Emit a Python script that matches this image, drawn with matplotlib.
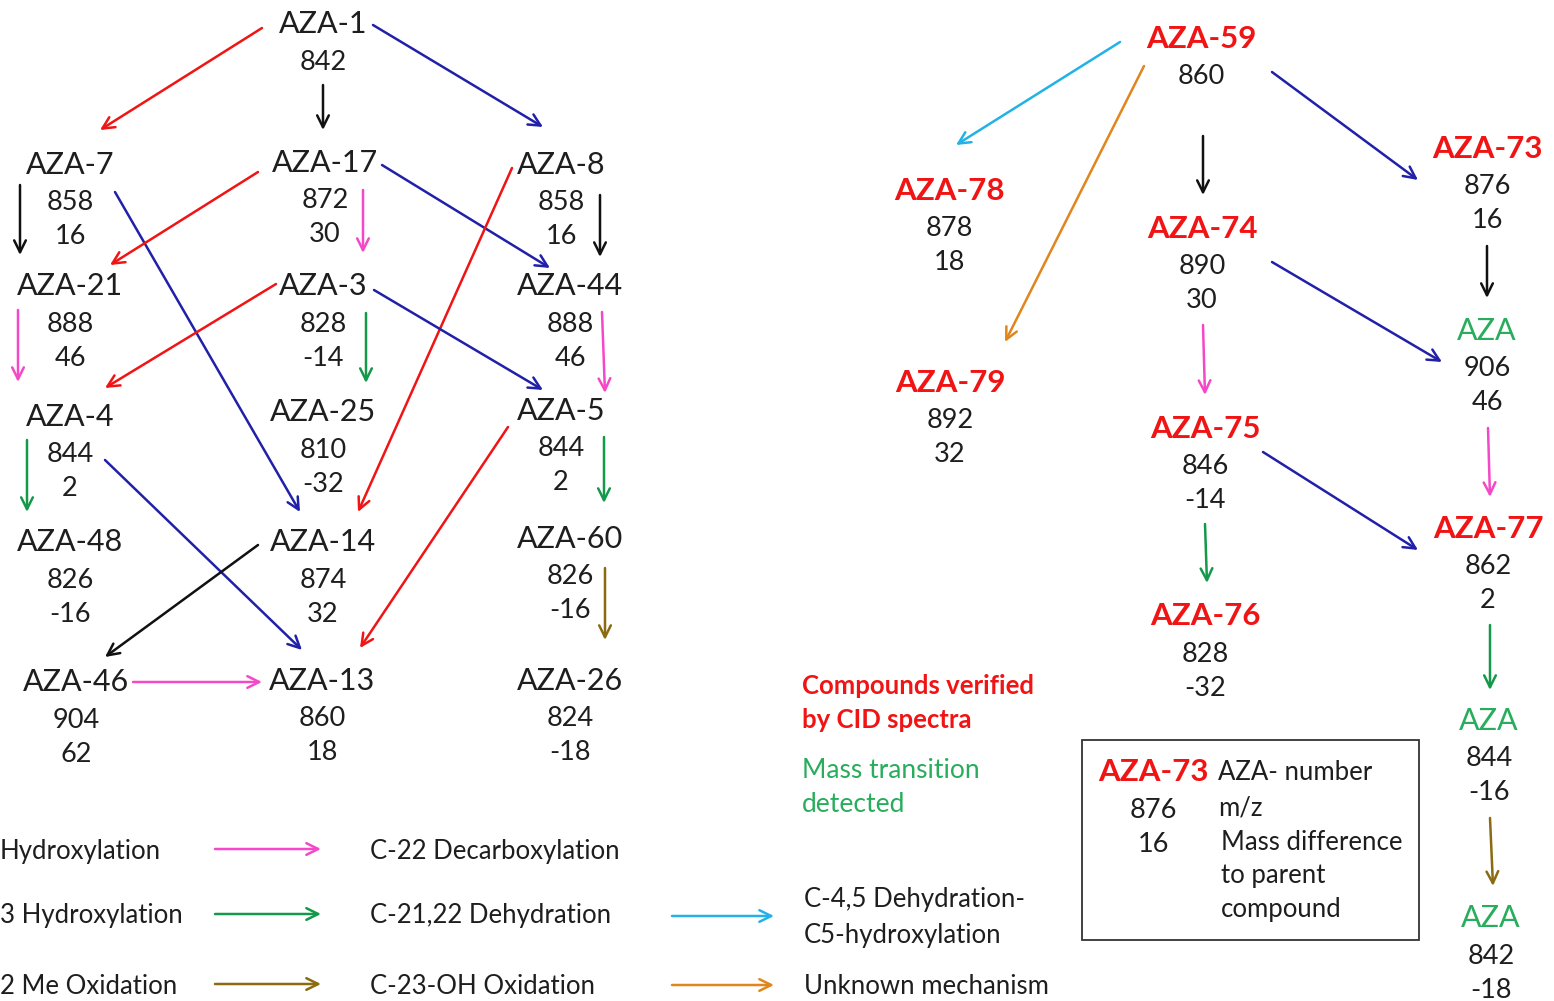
import matplotlib
matplotlib.use("Agg")
import matplotlib.pyplot as plt

plt.rcParams['font.family'] = ['Lato', 'DejaVu Sans']

# colours
RED = '#f01414'
BLUE = '#2020a8'
PINK = '#f548c8'
GREEN = '#14994a'
GREEN_TXT = '#28ad5c'
OLIVE = '#8c6a12'
CYAN = '#22b2e6'
ORANGE = '#e0861c'
BLACK = '#111111'
TXT = '#1e1e1e'

# compounds: name, m/z, mass difference to parent
names = ['AZA-1', 'AZA-7', 'AZA-17', 'AZA-8', 'AZA-21', 'AZA-3', 'AZA-44',
         'AZA-4', 'AZA-25', 'AZA-5', 'AZA-48', 'AZA-14', 'AZA-60',
         'AZA-46', 'AZA-13', 'AZA-26',
         'AZA-59', 'AZA-78', 'AZA-74', 'AZA-73', 'AZA-79', 'AZA', 'AZA-75',
         'AZA-77', 'AZA-76', 'AZA', 'AZA']
mz = ['842', '858', '872', '858', '888', '828', '888',
      '844', '810', '844', '826', '874', '826',
      '904', '860', '824',
      '860', '878', '890', '876', '892', '906', '846',
      '862', '828', '844', '842']
diff = ['', '16', '30', '16', '46', '-14', '46',
        '2', '-32', '2', '-16', '32', '-16',
        '62', '18', '-18',
        '', '18', '30', '16', '32', '46', '-14',
        '2', '-32', '-16', '-18']
# 'k' plain, 'v' verified by CID spectra, 't' mass transition detected
status = ['k'] * 16 + ['v', 'v', 'v', 'v', 'v', 't', 'v', 'v', 'v', 't', 't']

# layout: centre of the name label (pixels)
pos = [(323, 22), (70, 163), (325, 161), (561, 163), (70, 284), (323, 284),
       (570, 284), (70, 415), (323, 410), (561, 409), (70, 540), (323, 540),
       (570, 537), (76, 680), (322, 679), (570, 679),
       (1201, 37), (949, 189), (1202, 227), (1487, 147), (950, 381),
       (1487, 329), (1205, 427), (1488, 527), (1205, 614), (1489, 719),
       (1491, 916)]

# reaction arrows: start, end, colour
arrows = [
    ((262, 28), (100, 130), RED), ((323, 85), (323, 130), BLACK),
    ((373, 25), (543, 127), BLUE), ((20, 185), (20, 255), BLACK),
    ((115, 192), (300, 512), BLUE), ((258, 172), (110, 265), RED),
    ((363, 190), (363, 253), PINK), ((382, 165), (550, 268), BLUE),
    ((512, 168), (358, 512), RED), ((600, 195), (600, 257), BLACK),
    ((18, 310), (18, 382), PINK), ((276, 284), (105, 388), RED),
    ((366, 313), (366, 383), GREEN), ((374, 290), (543, 390), BLUE),
    ((602, 312), (605, 393), PINK), ((27, 440), (27, 512), GREEN),
    ((105, 460), (302, 650), BLUE), ((508, 427), (360, 648), RED),
    ((604, 437), (604, 503), GREEN), ((258, 545), (105, 657), BLACK),
    ((605, 568), (605, 640), OLIVE), ((133, 682), (262, 682), PINK),
    ((1120, 42), (956, 145), CYAN), ((1144, 66), (1005, 342), ORANGE),
    ((1203, 136), (1203, 195), BLACK), ((1272, 72), (1418, 180), BLUE),
    ((1487, 246), (1487, 298), BLACK), ((1272, 262), (1442, 362), BLUE),
    ((1203, 325), (1205, 395), PINK), ((1488, 428), (1490, 497), PINK),
    ((1263, 452), (1418, 550), BLUE), ((1205, 524), (1207, 583), GREEN),
    ((1490, 625), (1490, 690), GREEN), ((1490, 818), (1493, 886), OLIVE),
]

# legend
leg_left = ['Hydroxylation', '3 Hydroxylation', '2 Me Oxidation']
leg_left_col = [PINK, GREEN, OLIVE]
leg_mid = ['C-22 Decarboxylation', 'C-21,22 Dehydration', 'C-23-OH Oxidation']
leg_right = [['C-4,5 Dehydration-', 'C5-hydroxylation'], ['Unknown mechanism']]
leg_right_col = [CYAN, ORANGE]

ARROW = '->,head_length=0.85,head_width=0.42'
DY = 2  # Lato sits slightly high with va='center'


def arrow(ax, p0, p1, c):
    ax.annotate('', xy=p1, xytext=p0,
                arrowprops=dict(arrowstyle=ARROW, color=c, lw=1.8,
                                shrinkA=0, shrinkB=0))


def txt(ax, x, y, s, **kw):
    kw.setdefault('color', TXT)
    kw.setdefault('va', 'center')
    ax.text(x, y + DY, s, **kw)


fig = plt.figure(figsize=(15.54, 10.01), dpi=100)
ax = fig.add_axes([0, 0, 1, 1])
ax.set_xlim(0, 1554)
ax.set_ylim(1001, 0)
ax.axis('off')

for n, m, d, s, (x, y) in zip(names, mz, diff, status, pos):
    if s == 'v':
        txt(ax, x, y, n, color=RED, fontsize=22.5, fontweight='bold', ha='center')
    elif s == 't':
        txt(ax, x, y, n, color=GREEN_TXT, fontsize=22, ha='center')
    else:
        txt(ax, x, y, n, fontsize=22, ha='center')
    txt(ax, x, y + 38, m, fontsize=19.5, ha='center')
    if d:
        txt(ax, x, y + 72, d, fontsize=19.5, ha='center')

for p0, p1, c in arrows:
    arrow(ax, p0, p1, c)

# legend rows
rows_y = [849, 914, 984]
for t, c, mid, y in zip(leg_left, leg_left_col, leg_mid, rows_y):
    txt(ax, 0, y, t, fontsize=18.5, ha='left')
    arrow(ax, (215, y), (321, y), c)
    txt(ax, 370, y, mid, fontsize=18.5, ha='left')
for lines, c, y in zip(leg_right, leg_right_col, [916, 985]):
    arrow(ax, (672, y), (774, y), c)
    y0 = y - 17 * (len(lines) - 1)
    for i, line in enumerate(lines):
        txt(ax, 804, y0 + 35 * i - 1, line, fontsize=18.5, ha='left')

txt(ax, 802, 684, 'Compounds verified', color=RED, fontsize=18.5,
    fontweight='bold', ha='left')
txt(ax, 802, 718, 'by CID spectra', color=RED, fontsize=18.5,
    fontweight='bold', ha='left')
txt(ax, 802, 768, 'Mass transition', color=GREEN_TXT, fontsize=19, ha='left')
txt(ax, 802, 802, 'detected', color=GREEN_TXT, fontsize=19, ha='left')

# key box
ax.add_patch(plt.Rectangle((1082, 740), 337, 200, fill=False,
                           edgecolor='#333333', lw=1.3))
txt(ax, 1153, 770, 'AZA-73', color=RED, fontsize=22.5, fontweight='bold',
    ha='center')
txt(ax, 1153, 808, '876', fontsize=19.5, ha='center')
txt(ax, 1153, 843, '16', fontsize=19.5, ha='center')
txt(ax, 1218, 770, 'AZA- number', fontsize=18.5, ha='left')
txt(ax, 1218, 806, 'm/z', fontsize=18.5, ha='left')
for i, line in enumerate(['Mass difference', 'to parent', 'compound']):
    txt(ax, 1221, 840 + 34 * i, line, fontsize=18.5, ha='left')

fig.savefig('out.png', dpi=100, facecolor='white')
